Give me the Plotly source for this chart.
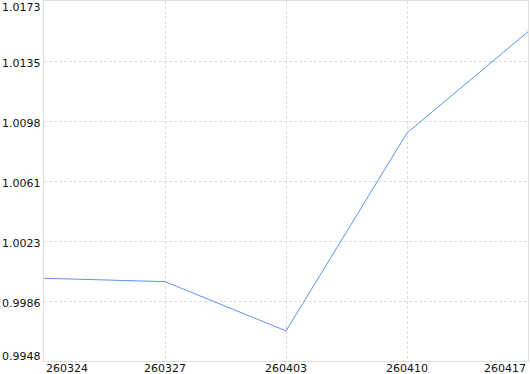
import plotly.graph_objects as go

categories = ["260324", "260327", "260403", "260410", "260417"]
values = [0.99997, 0.99976, 0.99668, 1.00905, 1.01538]
y_tick_vals = [0.9948, 0.99855, 1.0023, 1.00605, 1.0098, 1.01355, 1.0173]
y_tick_text = ["0.9948", "0.9986", "1.0023", "1.0061", "1.0098", "1.0135", "1.0173"]

FONT = "DejaVu Sans"
fig = go.Figure()
fig.add_trace(go.Scatter(
    x=list(range(len(categories))), y=values, mode="lines",
    line=dict(color="#5a95ec", width=1), hoverinfo="skip", showlegend=False,
))

ymin, ymax = y_tick_vals[0], y_tick_vals[-1]
annotations = []
n = len(categories)
for i, c in enumerate(categories):
    anchor = "left" if i == 0 else ("right" if i == n - 1 else "center")
    annotations.append(dict(x=i, y=0, xref="x", yref="paper", text=c, showarrow=False,
                            xanchor=anchor, yanchor="top", yshift=1,
                            font=dict(family=FONT, size=11, color="#111111")))
for j, (v, t) in enumerate(zip(y_tick_vals, y_tick_text)):
    shift = -2
    if j == 0:
        shift = 5
    elif j == len(y_tick_vals) - 1:
        shift = -6
    annotations.append(dict(x=0, y=v, xref="paper", yref="y", text=t, showarrow=False,
                            xanchor="right", yanchor="middle", xshift=-1, yshift=shift,
                            font=dict(family=FONT, size=11, color="#111111")))

fig.update_layout(
    width=530, height=374, margin=dict(l=44, r=2, t=1, b=13),
    paper_bgcolor="white", plot_bgcolor="white",
    annotations=annotations,
    xaxis=dict(range=[0, n - 1], tickvals=list(range(n)), showticklabels=False,
               showgrid=True, gridcolor="#dddddd", griddash="3px,2px", gridwidth=1,
               showline=True, linecolor="#dddddd", mirror=True, zeroline=False, ticks=""),
    yaxis=dict(range=[ymin, ymax], tickvals=y_tick_vals, showticklabels=False,
               showgrid=True, gridcolor="#dddddd", griddash="3px,2px", gridwidth=1,
               showline=True, linecolor="#dddddd", mirror=True, zeroline=False, ticks=""),
)
fig.write_html("out.html")
